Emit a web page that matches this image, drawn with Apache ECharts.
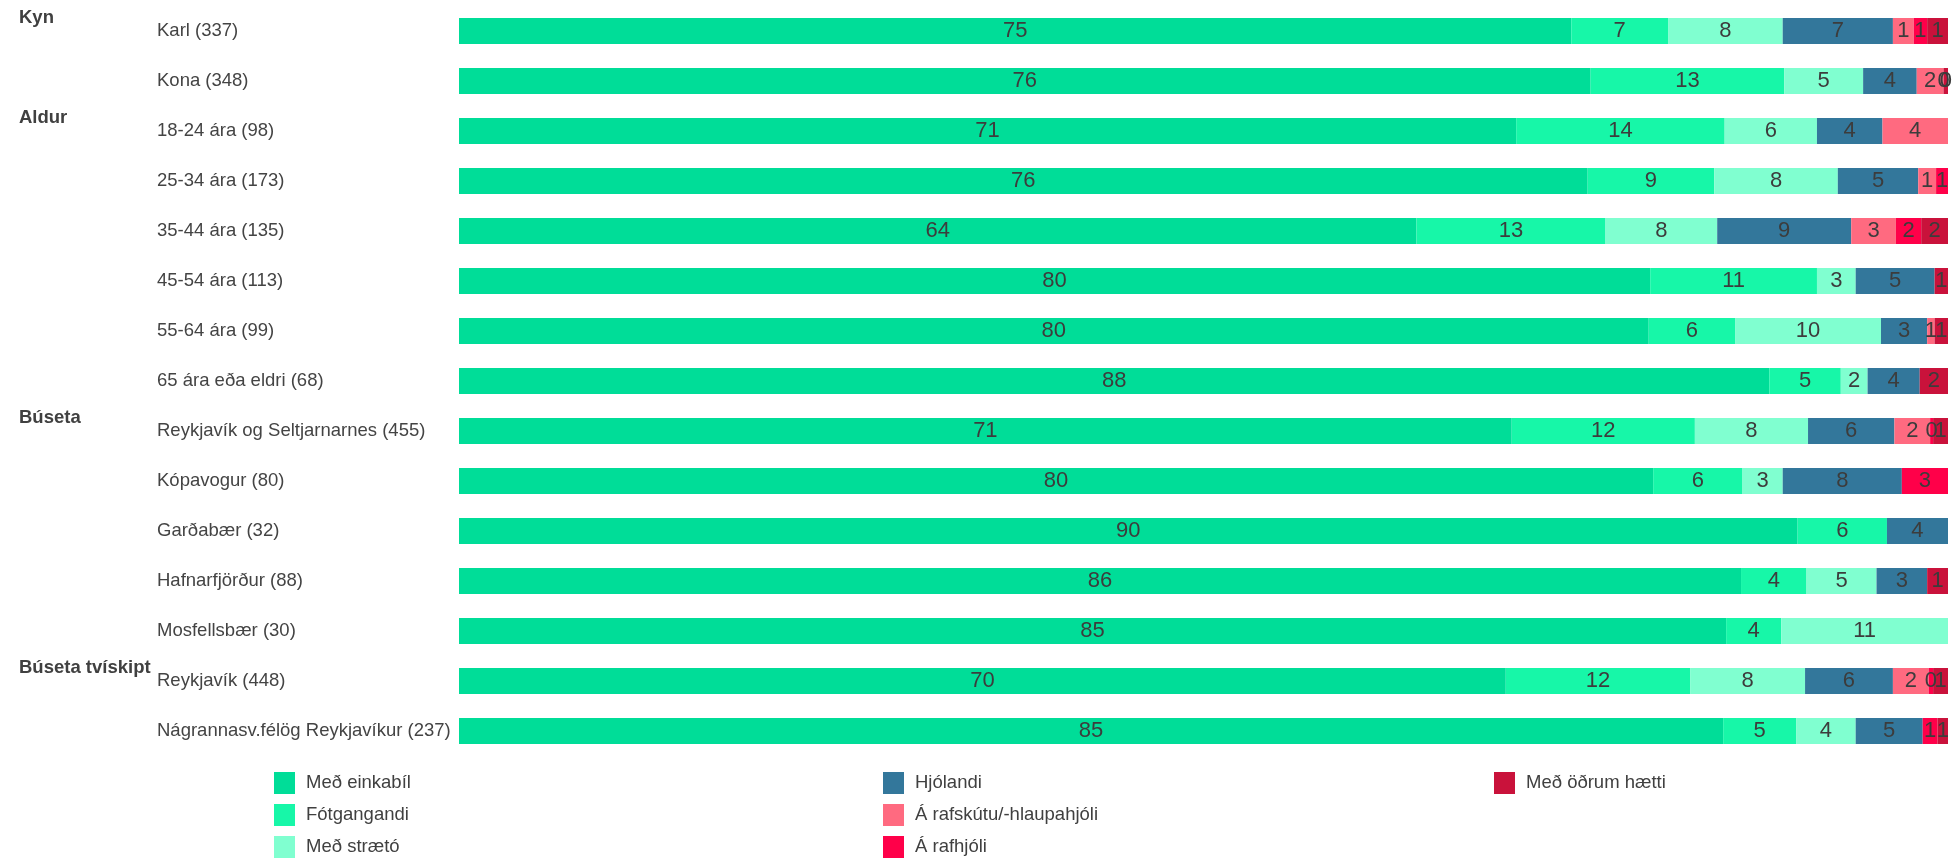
<!DOCTYPE html>
<html>
<head>
<meta charset="utf-8">
<script src="https://cdn.jsdelivr.net/npm/echarts@6/dist/echarts.min.js"></script>
<style>
html,body{margin:0;padding:0;background:#fff;}
#c{width:1957px;height:861px;}
</style>
</head>
<body>
<div id="c"></div>
<script>
const categories = [
  'Karl (337)', 'Kona (348)',
  '18-24 ára (98)', '25-34 ára (173)', '35-44 ára (135)', '45-54 ára (113)', '55-64 ára (99)', '65 ára eða eldri (68)',
  'Reykjavík og Seltjarnarnes (455)', 'Kópavogur (80)', 'Garðabær (32)', 'Hafnarfjörður (88)', 'Mosfellsbær (30)',
  'Reykjavík (448)', 'Nágrannasv.félög Reykjavíkur (237)'
];
const groups = [
  { name: 'Kyn', first: 'Karl (337)' },
  { name: 'Aldur', first: '18-24 ára (98)' },
  { name: 'Búseta', first: 'Reykjavík og Seltjarnarnes (455)' },
  { name: 'Búseta tvískipt', first: 'Reykjavík (448)' }
];
const seriesNames = ['Með einkabíl', 'Fótgangandi', 'Með strætó', 'Hjólandi', 'Á rafskútu/-hlaupahjóli', 'Á rafhjóli', 'Með öðrum hætti'];
const einkabil    = [74.7, 76.0, 71.0, 75.8, 64.3, 80.0, 79.9, 88.0, 70.7, 80.2, 89.9, 86.1, 85.1, 70.3, 84.9];
const fotgangandi = [6.5, 13.0, 14.0, 8.5, 12.7, 11.2, 5.8, 4.8, 12.3, 6.0, 6.0, 4.4, 3.7, 12.4, 4.9];
const straeto     = [7.7, 5.3, 6.2, 8.3, 7.5, 2.6, 9.8, 1.8, 7.6, 2.7, null, 4.7, 11.2, 7.7, 4.0];
const hjolandi    = [7.4, 3.6, 4.4, 5.4, 9.0, 5.3, 3.1, 3.5, 5.8, 8.0, 4.1, 3.4, null, 5.9, 4.5];
const rafskutu    = [1.4, 1.8, 4.4, 1.2, 3.0, null, 0.5, null, 2.4, null, null, null, null, 2.4, null];
const rafhjoli    = [0.9, 0.0, null, 0.8, 1.7, null, null, null, 0.2, 3.1, null, null, null, 0.3, 1.0];
const odrum       = [1.4, 0.3, null, null, 1.8, 0.9, 0.9, 1.9, 1.0, null, null, 1.4, null, 1.0, 0.7];
const seriesData = [einkabil, fotgangandi, straeto, hjolandi, rafskutu, rafhjoli, odrum];
const colors = ['#00DD98', '#17F7A8', '#80FFD0', '#33779B', '#FF6A80', '#FF0049', '#C9123B'];

const FONT = '"Liberation Sans", Arial, sans-serif';
const chart = echarts.init(document.getElementById('c'), null, { renderer: 'canvas' });

const series = seriesNames.map((n, i) => ({
  name: n,
  type: 'bar',
  stack: 'total',
  barWidth: 26,
  data: seriesData[i],
  itemStyle: { color: colors[i] },
  label: {
    show: true,
    position: 'inside',
    color: '#3c3c3c',
    fontSize: 22,
    fontFamily: FONT,
    textBorderWidth: 0,
    formatter: p => (p.value == null ? '' : String(Math.round(p.value)))
  },
  emphasis: { disabled: true }
}));

const legendCols = [seriesNames.slice(0, 3), seriesNames.slice(3, 6), seriesNames.slice(6)];
const legendLefts = [274, 883, 1494];
const legends = legendCols.map((d, i) => ({
  data: d,
  orient: 'vertical',
  left: legendLefts[i],
  top: 772,
  padding: 0,
  height: 89,
  itemWidth: 21,
  itemHeight: 22,
  itemGap: 10,
  icon: 'rect',
  selectedMode: false,
  textStyle: { color: '#404040', fontSize: 18.5, fontFamily: FONT, padding: [0, 0, 0, 6] }
}));

chart.setOption({
  animation: false,
  backgroundColor: '#fff',
  color: colors,
  grid: { left: 459, right: 9, top: 6, bottom: 105, containLabel: false },
  legend: legends,
  xAxis: { type: 'value', min: 0, max: 100, show: false },
  yAxis: {
    type: 'category',
    data: categories,
    inverse: true,
    axisLine: { show: false },
    axisTick: { show: false },
    splitLine: { show: false },
    axisLabel: { align: 'left', margin: 302, color: '#444444', fontSize: 18.5, fontFamily: FONT }
  },
  series: series
});

const graphics = groups.map(g => {
  const y = chart.convertToPixel({ yAxisIndex: 0 }, g.first);
  return {
    type: 'text',
    left: 19,
    top: y - 23,
    style: { text: g.name, fill: '#404040', font: 'bold 18.5px ' + FONT }
  };
});
chart.setOption({ graphic: graphics });
</script>
</body>
</html>
